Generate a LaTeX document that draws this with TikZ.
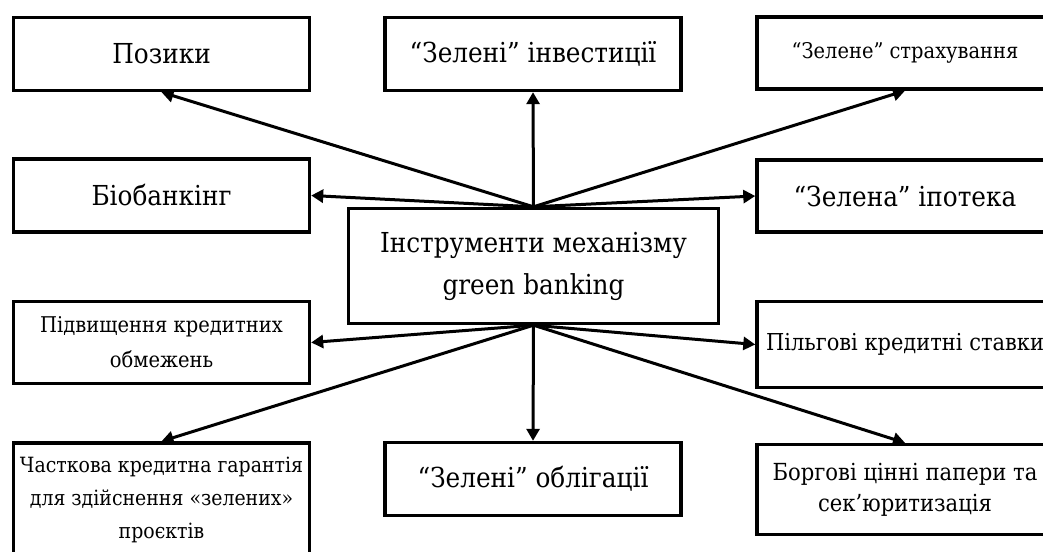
\documentclass[tikz,border=0pt]{standalone}
\usepackage{fontspec}
\setmainfont{DejaVu Serif Condensed}
\usetikzlibrary{arrows.meta}
\begin{document}
\begin{tikzpicture}[x=1pt,y=-1pt,
  box/.style={draw,line width=3.4pt,minimum width=296pt,inner sep=0pt,align=center},
  big/.style={font=\fontsize{27.5}{42}\selectfont},
  arr/.style={line width=3pt,-{Triangle[length=12pt,width=13pt]}}]
\useasboundingbox (0,0) rectangle (1043,551);
\clip (0,0) rectangle (1043,551);
\node[box,big,minimum height=73pt] (poz) at (161.5,54) {Позики};
\node[box,big,minimum height=73pt] (bio) at (161.5,195.5) {Біобанкінг};
\node[box,big,minimum height=73pt] (inv) at (533,54) {“Зелені” інвестиції};
\node[box,font=\fontsize{21.6}{28}\selectfont,minimum height=72pt] (str) at (905,53) {“Зелене” страхування};
\node[box,big,minimum height=72pt] (ipo) at (905,196) {“Зелена” іпотека};
\node[box,big,minimum width=370pt,minimum height=115pt] (ctr) at (533.5,266) {Інструменти механізму\\green banking};
\node[box,font=\fontsize{21.7}{35}\selectfont,minimum height=82pt] (pid) at (161.5,342.5) {Підвищення кредитних\\обмежень};
\node[box,minimum height=116pt] (chas) at (161.5,501) {};
\node[font=\fontsize{21}{33}\selectfont,align=center] (chast) at (161.5,500) {Часткова кредитна гарантія\\для здійснення «зелених»\\проєктів};
\node[box,font=\fontsize{23.3}{31}\selectfont,minimum height=86pt] (pil) at (905,344.5) {Пільгові кредитні ставки};
\node[box,font=\fontsize{23.5}{31}\selectfont,minimum height=90pt] (borg) at (905,489.5) {Боргові цінні папери та\\сек’юритизація};
\node[box,big,minimum height=73pt] (obl) at (533,479) {“Зелені” облігації};
\draw[arr] (ctr.north) -- (poz.south);
\draw[arr] (ctr.north) -- (bio.east);
\draw[arr] (ctr.north) -- (inv.south);
\draw[arr] (ctr.north) -- (str.south);
\draw[arr] (ctr.north) -- (ipo.west);
\draw[arr] (ctr.south) -- (pid.east);
\draw[arr] (ctr.south) -- (chas.north);
\draw[arr] (ctr.south) -- (obl.north);
\draw[arr] (ctr.south) -- (pil.west);
\draw[arr] (ctr.south) -- (borg.north);
\end{tikzpicture}
\end{document}
